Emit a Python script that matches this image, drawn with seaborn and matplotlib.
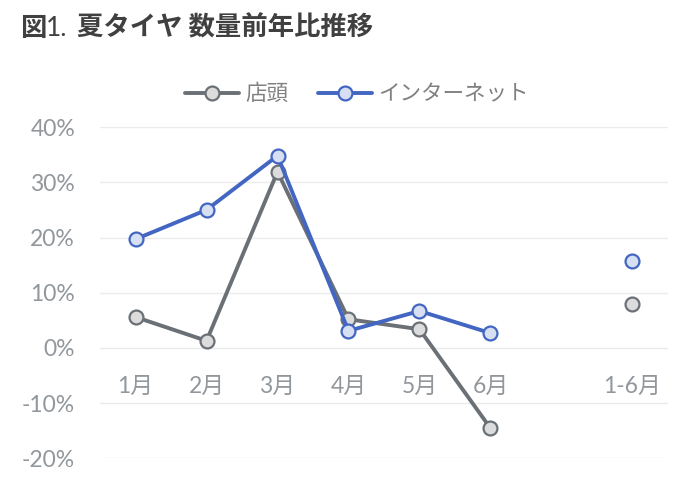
import pandas as pd
import matplotlib.pyplot as plt
import seaborn as sns
from matplotlib.lines import Line2D

# ================== DATA ================== #
months = ["1月", "2月", "3月", "4月", "5月", "6月"]
total_label = "1-6月"
store = [5.6, 1.3, 31.9, 5.2, 3.4, -14.5]
store_total = 8.0
net = [19.7, 25.0, 34.8, 3.1, 6.7, 2.7]
net_total = 15.7
yticks = [-20, -10, 0, 10, 20, 30, 40]

# ================== STYLE ================== #
sns.set_theme(style="white")
plt.rcParams["font.family"] = ["Lato", "Noto Sans CJK JP", "DejaVu Sans"]

GRAY, GRAY_FACE = "#6a7076", "#dcdcdc"
BLUE, BLUE_FACE = "#4266c2", "#d7dff2"
TXT = "#92979c"

df = pd.DataFrame({
    "x": list(range(len(months))) * 2,
    "v": store + net,
    "series": ["店頭"] * len(months) + ["インターネット"] * len(months),
})
df_tot = pd.DataFrame({
    "x": [len(months) + 1] * 2,
    "v": [store_total, net_total],
    "series": ["店頭", "インターネット"],
})

fig = plt.figure(figsize=(7, 4.9), dpi=100)
ax = fig.add_axes([0.143, 0.0643, 0.811, 0.6765])

styles = {"店頭": (GRAY, GRAY_FACE), "インターネット": (BLUE, BLUE_FACE)}
for name, (c, fc) in styles.items():
    sns.lineplot(data=df[df.series == name], x="x", y="v", ax=ax, color=c,
                 lw=2.8, marker="o", markersize=10, markerfacecolor=fc,
                 markeredgecolor=c, markeredgewidth=1.6, zorder=3)
    sns.scatterplot(data=df_tot[df_tot.series == name], x="x", y="v", ax=ax,
                    color=fc, edgecolor=c, linewidth=1.6, s=100, zorder=3)

# ================== AXES ================== #
ax.set_xlim(-0.5, len(months) + 1.5)
ax.set_ylim(-20, 40)
ax.set_yticks(yticks)
ax.set_yticklabels([f"{t}%" for t in yticks], fontsize=16.5, color=TXT)
ax.tick_params(axis="y", length=0, pad=18)
ax.set_xticks([])
ax.set_xlabel("")
ax.set_ylabel("")
for s in ax.spines.values():
    s.set_visible(False)
ax.grid(axis="y", color="#ebebeb", lw=1)
ax.set_axisbelow(True)

for i, m in enumerate(months + [None, total_label]):
    if m:
        ax.text(i, -7, m, ha="center", va="center", fontsize=16.5, color=TXT)

# ================== LEGEND ================== #
handles = [Line2D([], [], color=c, lw=2.8, marker="o", markersize=10,
                  markerfacecolor=fc, markeredgecolor=c, markeredgewidth=1.6)
           for c, fc in styles.values()]
leg = fig.legend(handles, list(styles.keys()), loc="center",
                 bbox_to_anchor=(0.51, 0.808), ncol=2, frameon=False,
                 fontsize=15.5, handlelength=2.5, columnspacing=1.4,
                 handletextpad=0.3)
for t in leg.get_texts():
    t.set_color("#808080")

# ================== TITLE ================== #
fig.text(0.028, 0.942, "図", fontsize=19, fontweight="bold", color="#404040",
         family=["Noto Sans CJK JP"], va="center")
fig.text(0.066, 0.942, "1.", fontsize=19, color="#404040",
         family=["Lato"], va="center")
fig.text(0.11, 0.942, "夏タイヤ 数量前年比推移", fontsize=19, fontweight="bold",
         color="#404040", family=["Noto Sans CJK JP"], va="center")

fig.savefig("out.png", dpi=100)
